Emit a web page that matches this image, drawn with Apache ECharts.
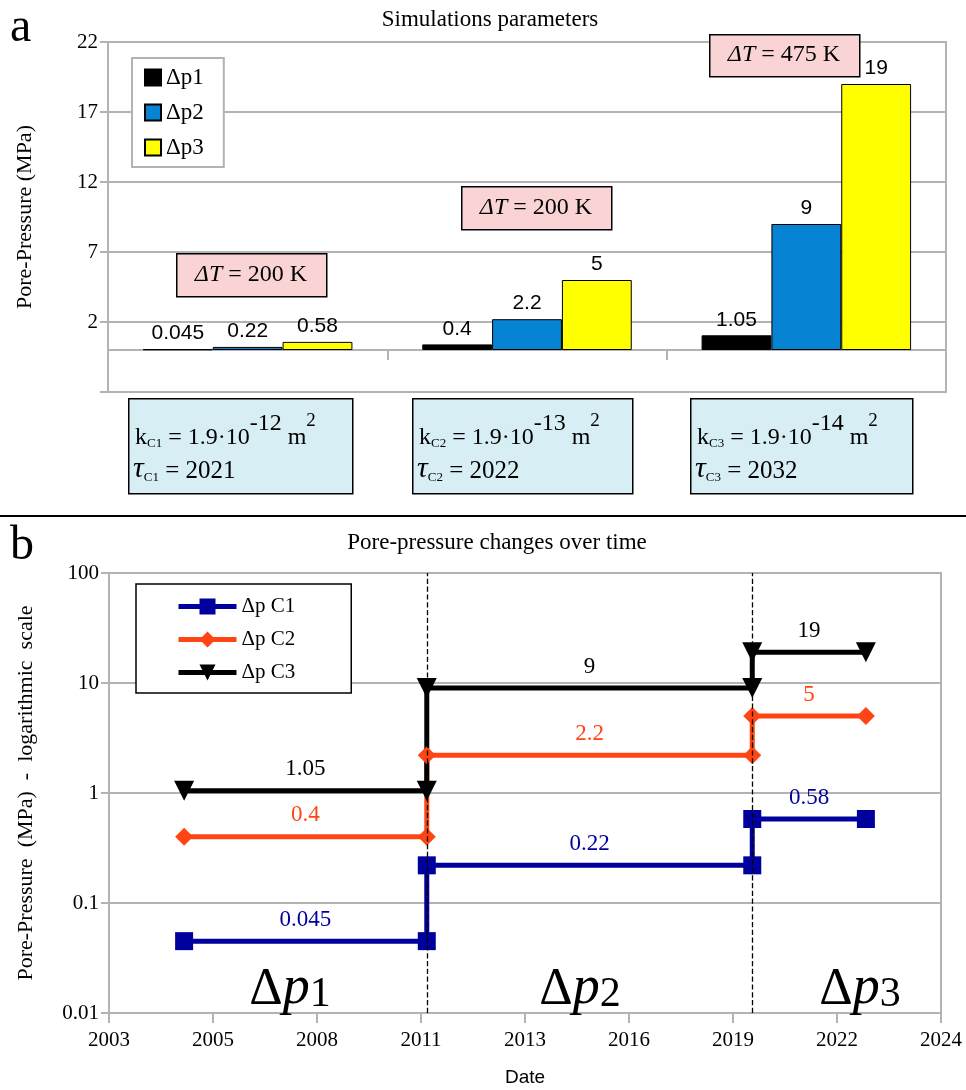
<!DOCTYPE html>
<html>
<head>
<meta charset="utf-8">
<script src="https://cdn.jsdelivr.net/npm/echarts@6/dist/echarts.min.js"></script>
<style>html,body{margin:0;padding:0;background:#fff}#chart{width:966px;height:1090px}</style>
</head>
<body>
<div id="chart"></div>
<script>
// panel a - simulation parameters
var cases=['C1','C2','C3'];
var caseColors=['#0a0a9e','#ff4513','#000000'];
var dp1=[0.045,0.4,1.05];
var dp2=[0.22,2.2,9];
var dp3=[0.58,5,19];
var barTicks=[-3,2,7,12,17,22];
var deltaT=['200','200','475'];
var permExp=['-12','-13','-14'];
var tau=['2021','2022','2032'];

// panel b - pore pressure over time
var stepTimes=[2004.6,2010.9,2019.35,2022.3]; // start, change 1, change 2, end
var c1=[0.045,0.22,0.58];
var c2=[0.4,2.2,5];
var c3=[1.05,9,19];
var dateTicks=[2002.65,2005.35,2008.05,2010.75,2013.45,2016.15,2018.85,2021.55,2024.25];
var dateLabels=['2003','2005','2008','2011','2013','2016','2019','2022','2024'];

var serif="'Liberation Serif','DejaVu Serif',serif";
var sans="'Liberation Sans','DejaVu Sans',sans-serif";
var gray='#b3b3b3';

function steps(v){
    var pts=[];
    for(var i=0;i<v.length;i++){
        pts.push([stepTimes[i],v[i]]);
        pts.push([stepTimes[i+1],v[i]]);
    }
    return pts;
}
function mids(v){
    return v.map(function(val,i){return [(stepTimes[i]+stepTimes[i+1])/2,val];});
}

var chart=echarts.init(document.getElementById('chart'));

var barLabel={show:true,position:'top',distance:5,fontFamily:sans,fontSize:21,color:'#000'};
function lineSeries(name,v,color,symbol,size,rot){
    return {
        type:'line',name:name,xAxisIndex:1,yAxisIndex:1,data:steps(v),
        symbol:symbol,symbolSize:size,symbolRotate:rot||0,showSymbol:true,
        lineStyle:{color:color,width:5},itemStyle:{color:color},z:3
    };
}
function labelSeries(v,color){
    return {
        type:'scatter',name:'lab',xAxisIndex:1,yAxisIndex:1,data:mids(v),
        symbolSize:0,silent:true,z:4,itemStyle:{opacity:1},
        label:{show:true,position:'top',distance:10,color:color,opacity:1,fontFamily:serif,fontSize:23,
            formatter:function(p){return String(p.value[1]);}}
    };
}

// annotation boxes (pink: temperature, blue: permeability)
var pinkBoxes=[{x:176,y:253,w:150,h:43},{x:461,y:186,w:150,h:43},{x:709,y:34,w:150,h:42}];
var blueBoxes=[{x:128,w:224},{x:412,w:220},{x:690,w:222}];
var graphics=[];
pinkBoxes.forEach(function(b,i){
    graphics.push({type:'rect',left:b.x,top:b.y,shape:{width:b.w,height:b.h},
        style:{fill:'#fad4d4',stroke:'#000',lineWidth:1.5},z:10});
    graphics.push({type:'text',x:b.x+b.w/2,y:b.y+b.h/2,z:11,
        style:{text:'{i|ΔT} = '+deltaT[i]+' K',align:'center',verticalAlign:'middle',
            font:'24px '+serif,fill:'#000',
            rich:{i:{fontStyle:'italic',fontFamily:serif,fontSize:24}}}});
});
blueBoxes.forEach(function(b,i){
    graphics.push({type:'rect',left:b.x,top:398,shape:{width:b.w,height:95},
        style:{fill:'#d7eef4',stroke:'#000',lineWidth:1.5},z:10});
    graphics.push({type:'text',x:b.x+7,y:412,z:11,
        style:{text:'{n|k}{s|'+cases[i]+'}{n| = 1.9·10}{p|'+permExp[i]+'}{n| m}{q|2}',
            fill:'#000',
            rich:{
                n:{fontFamily:serif,fontSize:24,lineHeight:38,verticalAlign:'bottom'},
                s:{fontFamily:serif,fontSize:13,lineHeight:24,verticalAlign:'bottom'},
                p:{fontFamily:serif,fontSize:24,lineHeight:16,verticalAlign:'top'},
                q:{fontFamily:serif,fontSize:19,lineHeight:14,verticalAlign:'top'}
            }}});
    graphics.push({type:'text',x:b.x+5,y:454,z:11,
        style:{text:'{t|τ}{s|'+cases[i]+'}{n| = '+tau[i]+'}',fill:'#000',
            rich:{
                t:{fontFamily:serif,fontSize:30,fontStyle:'italic',lineHeight:30,verticalAlign:'bottom'},
                n:{fontFamily:serif,fontSize:25,lineHeight:30,verticalAlign:'bottom'},
                s:{fontFamily:serif,fontSize:13,lineHeight:22,verticalAlign:'bottom'}
            }}});
});
// panel letters, titles, divider, period labels
graphics.push({type:'text',x:10,y:4,style:{text:'a',font:'48px '+serif,fill:'#000'}});
graphics.push({type:'text',x:10,y:522,style:{text:'b',font:'48px '+serif,fill:'#000'}});
graphics.push({type:'text',x:490,y:20,style:{text:'Simulations parameters',font:'23px '+serif,fill:'#000',align:'center',verticalAlign:'middle'}});
graphics.push({type:'text',x:497,y:543,style:{text:'Pore-pressure changes over time',font:'23px '+serif,fill:'#000',align:'center',verticalAlign:'middle'}});
graphics.push({type:'line',shape:{x1:0,y1:516,x2:966,y2:516},style:{stroke:'#000',lineWidth:2}});
[[290,'1'],[580,'2'],[860,'3']].forEach(function(d){
    graphics.push({type:'text',x:d[0],y:990,z:5,style:{
        text:'{d|Δ}{p|p}{n|'+d[1]+'}',align:'center',verticalAlign:'middle',fill:'#000',
        rich:{
            d:{fontFamily:serif,fontSize:52,lineHeight:52,verticalAlign:'bottom'},
            p:{fontFamily:serif,fontSize:54,lineHeight:52,fontStyle:'italic',verticalAlign:'bottom'},
            n:{fontFamily:serif,fontSize:42,lineHeight:44,verticalAlign:'bottom'}
        }}});
});

var option={
    animation:false,
    backgroundColor:'#fff',
    grid:[
        {left:108,right:20,top:42,bottom:698,show:true,borderColor:gray,borderWidth:2},
        {left:109,right:25,top:573,bottom:77,show:true,borderColor:gray,borderWidth:2}
    ],
    legend:[
        {left:132,top:58,orient:'vertical',data:['Δp1','Δp2','Δp3'],icon:'rect',
            itemWidth:16,itemHeight:16,itemGap:12,borderColor:gray,borderWidth:2,
            backgroundColor:'#fff',padding:[8,20,8,12],selectedMode:false,
            textStyle:{fontFamily:serif,fontSize:23,color:'#000'}},
        {left:136,top:584,orient:'vertical',data:['Δp C1','Δp C2','Δp C3'],
            itemWidth:58,itemHeight:20,itemGap:12,borderColor:'#000',borderWidth:1.5,
            backgroundColor:'#fff',padding:[12,56,10,40],selectedMode:false,
            lineStyle:{width:5},
            textStyle:{fontFamily:serif,fontSize:21,color:'#000'}}
    ],
    xAxis:[
        {type:'category',gridIndex:0,data:cases,
            axisLine:{onZero:true,lineStyle:{color:gray,width:2}},
            axisTick:{show:true,length:10,lineStyle:{color:gray,width:2}},
            axisLabel:{margin:16,formatter:function(v,i){return '{c'+i+'|'+v+'}';},
                rich:{
                    c0:{color:caseColors[0],fontFamily:serif,fontSize:23},
                    c1:{color:caseColors[1],fontFamily:serif,fontSize:23},
                    c2:{color:caseColors[2],fontFamily:serif,fontSize:23}
                }}},
        {type:'value',gridIndex:1,min:dateTicks[0],max:dateTicks[dateTicks.length-1],
            name:'Date',nameLocation:'middle',nameGap:55,
            nameTextStyle:{fontFamily:"'Liberation Sans Narrow',"+sans,fontSize:19,color:'#000'},
            axisLine:{lineStyle:{color:gray,width:2}},
            axisTick:{show:true,length:10,customValues:dateTicks,lineStyle:{color:gray,width:2}},
            splitLine:{show:false},
            axisLabel:{customValues:dateTicks,margin:17,fontFamily:serif,fontSize:21,color:'#000',
                formatter:function(v){
                    for(var i=0;i<dateTicks.length;i++){ if(Math.abs(dateTicks[i]-v)<1e-6) return dateLabels[i]; }
                    return '';
                }}}
    ],
    yAxis:[
        {type:'value',gridIndex:0,min:-3,max:22,interval:5,
            name:'Pore-Pressure (MPa)',nameLocation:'middle',nameGap:72,
            nameTextStyle:{fontFamily:serif,fontSize:22,color:'#000'},
            axisLine:{show:true,lineStyle:{color:gray,width:2}},
            axisTick:{show:true,length:8,customValues:barTicks,lineStyle:{color:gray,width:2}},
            splitLine:{show:true,lineStyle:{color:gray,width:2}},
            axisLabel:{customValues:barTicks,margin:10,fontFamily:serif,fontSize:21,color:'#000',
                formatter:function(v){return v<0?'':String(v);}}},
        {type:'log',gridIndex:1,min:0.01,max:100,logBase:10,
            name:'Pore-Pressure  (MPa)  -  logarithmic  scale',nameLocation:'middle',nameGap:72,
            nameTextStyle:{fontFamily:serif,fontSize:22,color:'#000'},
            axisLine:{show:true,lineStyle:{color:gray,width:2}},
            axisTick:{show:true,length:8,lineStyle:{color:gray,width:2}},
            minorTick:{show:false},
            splitLine:{show:true,lineStyle:{color:gray,width:2}},
            axisLabel:{margin:10,fontFamily:serif,fontSize:21,color:'#000',
                formatter:function(v){return String(+Number(v).toPrecision(3));}}}
    ],
    series:[
        {type:'bar',name:'Δp1',xAxisIndex:0,yAxisIndex:0,data:dp1,barGap:'0%',barCategoryGap:'25%',
            itemStyle:{color:'#000000',borderColor:'#000',borderWidth:1},label:barLabel},
        {type:'bar',name:'Δp2',xAxisIndex:0,yAxisIndex:0,data:dp2,
            itemStyle:{color:'#0683d2',borderColor:'#000',borderWidth:1},label:barLabel},
        {type:'bar',name:'Δp3',xAxisIndex:0,yAxisIndex:0,data:dp3,
            itemStyle:{color:'#ffff00',borderColor:'#000',borderWidth:1},label:barLabel},
        lineSeries('Δp C1',c1,'#00009c','rect',18),
        lineSeries('Δp C2',c2,'#ff4513','diamond',18),
        Object.assign(lineSeries('Δp C3',c3,'#000000','triangle',20,180),{
            markLine:{symbol:'none',silent:true,label:{show:false},
                lineStyle:{color:'#000',type:'dashed',width:1.3},
                data:[{xAxis:stepTimes[1]},{xAxis:stepTimes[2]}]}
        }),
        labelSeries(c1,'#00009c'),
        labelSeries(c2,'#ff4513'),
        labelSeries(c3,'#000000')
    ],
    graphic:graphics
};
chart.setOption(option);
</script>
</body>
</html>
